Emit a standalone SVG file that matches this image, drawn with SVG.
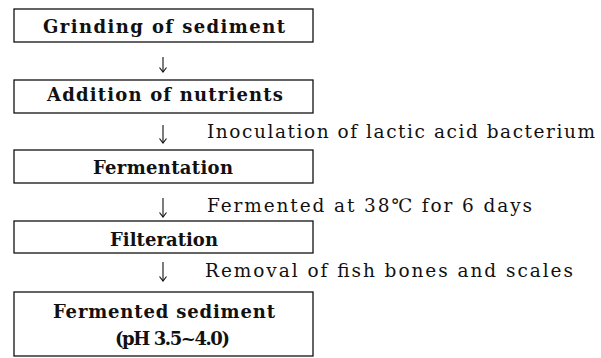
<svg xmlns="http://www.w3.org/2000/svg" width="601" height="358" viewBox="0 0 601 358">
<style>
.box{fill:#fff;stroke:#111;stroke-width:1.3}
.t{font-family:"DejaVu Serif","Liberation Serif",serif;font-size:18px;font-weight:bold;fill:#111}
.s{font-family:"DejaVu Serif","Liberation Serif",serif;font-size:18.5px;fill:#111}
.c{stroke:#111;stroke-width:1.1;fill:none}
</style>
<defs>
<marker id="ah" viewBox="0 0 10 10" refX="9.5" refY="5" markerWidth="10" markerHeight="10" markerUnits="userSpaceOnUse" orient="auto">
<path d="M5,1.5 L9.5,5 L5,8.5" fill="none" stroke="#111" stroke-width="1.1"/>
</marker>
</defs>
<rect width="601" height="358" fill="#fff"/>
<g id="connectors">
<path class="c" d="M163,57 V72" marker-end="url(#ah)"/>
<path class="c" d="M163,125 V143" marker-end="url(#ah)"/>
<path class="c" d="M163,198 V217" marker-end="url(#ah)"/>
<path class="c" d="M163,262 V281" marker-end="url(#ah)"/>
</g>
<g id="node1">
<rect class="box" x="14" y="9" width="299" height="33"/>
<text class="t" x="43" y="33" textLength="242" lengthAdjust="spacing">Grinding of sediment</text>
</g>
<g id="node2">
<rect class="box" x="14" y="80" width="299" height="33"/>
<text class="t" x="47" y="101" textLength="236" lengthAdjust="spacing">Addition of nutrients</text>
</g>
<g id="node3">
<rect class="box" x="14" y="150" width="299" height="33"/>
<text class="t" x="93" y="174" textLength="140" lengthAdjust="spacing">Fermentation</text>
</g>
<g id="node4">
<rect class="box" x="14" y="221" width="299" height="32"/>
<text class="t" x="110" y="246" textLength="108" lengthAdjust="spacing">Filteration</text>
</g>
<g id="node5">
<rect class="box" x="14" y="292" width="299" height="64"/>
<text class="t" x="53" y="318" textLength="222" lengthAdjust="spacing">Fermented sediment</text>
<text class="t" x="115" y="345" textLength="115" lengthAdjust="spacing">(pH 3.5~4.0)</text>
</g>
<g id="labels">
<text class="s" x="207" y="138" textLength="388" lengthAdjust="spacing">Inoculation of lactic acid bacterium</text>
<text class="s" x="207" y="212" textLength="325" lengthAdjust="spacing">Fermented at 38℃ for 6 days</text>
<text class="s" x="205" y="277" textLength="368" lengthAdjust="spacing">Removal of fish bones and scales</text>
</g>
</svg>
